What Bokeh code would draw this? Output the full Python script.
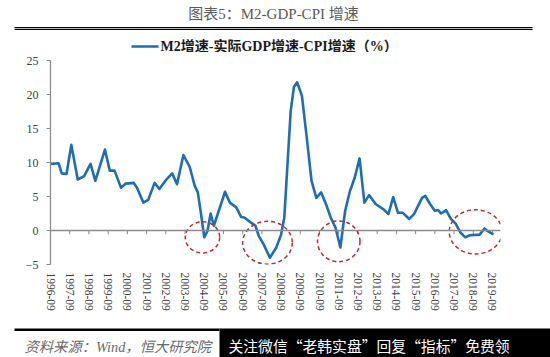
from bokeh.plotting import figure
from bokeh.models import Range1d, FixedTicker, Span, BoxAnnotation
from bokeh.layouts import column
from bokeh.embed import file_html
from bokeh.resources import INLINE
from bokeh.core.properties import value

# ---------------- data ----------------
dates = ["1996-09", "1997-02", "1997-04", "1997-07", "1997-10", "1998-02", "1998-06", "1998-10",
         "1999-01", "1999-07", "1999-10", "2000-01", "2000-05", "2000-08", "2001-01", "2001-03",
         "2001-07", "2001-10", "2002-02", "2002-05", "2002-09", "2003-01", "2003-04", "2003-08",
         "2003-12", "2004-03", "2004-05", "2004-07", "2004-09", "2004-11", "2005-01", "2005-03",
         "2005-10", "2006-01", "2006-05", "2006-08", "2006-10", "2007-02", "2007-05", "2007-07",
         "2007-10", "2008-02", "2008-06", "2008-09", "2008-11", "2009-01", "2009-03", "2009-05",
         "2009-07", "2009-10", "2010-01", "2010-04", "2010-07", "2010-10", "2011-01", "2011-04",
         "2011-07", "2011-10", "2012-01", "2012-04", "2012-07", "2012-10", "2013-01", "2013-04",
         "2013-08", "2014-01", "2014-04", "2014-07", "2014-10", "2015-01", "2015-05", "2015-08",
         "2016-01", "2016-03", "2016-06", "2016-09", "2016-11", "2017-01", "2017-04", "2017-07",
         "2017-10", "2018-01", "2018-04", "2018-07", "2019-01", "2019-04", "2019-06", "2019-09"]
values = [9.8, 9.9, 8.4, 8.3, 12.6, 7.5, 8.0, 9.8,
          7.3, 11.9, 8.8, 8.8, 6.3, 6.9, 7.0, 6.3,
          4.1, 4.5, 7.0, 6.1, 7.4, 8.4, 6.8, 11.1,
          9.3, 6.6, 5.6, 2.4, -1.0, -0.1, 2.5, 0.7,
          5.7, 4.1, 3.4, 2.0, 1.9, 1.2, 0.7, -0.8,
          -2.0, -4.0, -2.5, -0.6, 1.9, 9.8, 17.6, 21.1,
          21.8, 19.8, 13.7, 7.3, 4.8, 5.6, 3.9, 1.9,
          0.4, -2.5, 2.9, 5.8, 7.8, 10.6, 4.1, 5.2,
          3.9, 3.1, 2.4, 4.9, 2.6, 2.6, 1.7, 2.4,
          4.8, 5.1, 3.9, 2.9, 3.0, 2.5, 3.0, 1.7,
          1.0, -0.3, -1.0, -0.7, -0.6, 0.3, -0.1, -0.5]
tick_labels = ["1996-09", "1997-09", "1998-09", "1999-09", "2000-09", "2001-09", "2002-09",
               "2003-09", "2004-09", "2005-09", "2006-09", "2007-09", "2008-09", "2009-09",
               "2010-09", "2011-09", "2012-09", "2013-09", "2014-09", "2015-09", "2016-09",
               "2017-09", "2018-09", "2019-09"]
y_ticks = [-5, 0, 5, 10, 15, 20, 25]

TITLE = "图表5：M2-GDP-CPI 增速"
SERIES = "M2增速-实际GDP增速-CPI增速（%）"
SOURCE = "资料来源：Wind，恒大研究院"
PROMO = "关注微信“老韩实盘”回复“指标”免费领"


def month_index(s):
    return (int(s[:4]) - 1996) * 12 + int(s[5:7]) - 9


xs = [month_index(d) for d in dates]
tick_pos = [month_index(t) for t in tick_labels]

SERIF = "'Liberation Serif', 'Noto Sans CJK SC'"
BLUE = "#1F6DB2"
RED = "#C22A30"
W = 550


def page_figure(height, y0, y1):
    f = figure(width=W, height=height, x_range=Range1d(0, 550), y_range=Range1d(y1, y0),
               x_axis_type=None, y_axis_type=None, output_backend="svg",
               toolbar_location=None, min_border=0, frame_align=False)
    f.outline_line_color = None
    f.grid.visible = False
    return f


def rule(fig, left, right, top, bottom, color="black"):
    fig.add_layout(BoxAnnotation(left=left, right=right, top=top, bottom=bottom,
                                 fill_color=color, fill_alpha=1, line_color=None,
                                 level="underlay"))


# ---------------- title (page y 0..28) ----------------
title_fig = page_figure(28, 0, 28)
title_fig.text(x=[273], y=[13], text=[TITLE], text_align="center", text_baseline="middle",
               text_font=value(SERIF), text_font_size="15px", text_color="#5a5a5a")
rule(title_fig, 14, 532, 26.5, 28)

# ---------------- legend row (page y 28..52) ----------------
legend_fig = page_figure(24, 28, 52)
rule(legend_fig, 14, 532, 28, 29.5)
rule(legend_fig, 131, 158, 44.8, 47.3, BLUE)
legend_fig.text(x=[160], y=[45.5], text=[SERIES], text_align="left", text_baseline="middle",
                text_font=value(SERIF), text_font_size="14px", text_font_style="bold",
                text_color="#1a1a1a")

# ---------------- main chart (page y 52..322) ----------------
main = figure(width=W, height=270, x_range=Range1d(0, 281), y_range=Range1d(-5, 25),
              output_backend="svg", toolbar_location=None, frame_align=False,
              min_border_left=50, min_border_right=50, min_border_top=8, min_border_bottom=58)
main.outline_line_color = None
main.grid.visible = False

main.add_layout(Span(location=0, dimension="width", line_color="#8a8a8a", line_width=1.5))
main.segment(x0=tick_pos, y0=[0] * len(tick_pos), x1=tick_pos, y1=[-0.55] * len(tick_pos),
             line_color="#8a8a8a", line_width=1)

main.line(xs, values, line_color=BLUE, line_width=2.6, line_join="round", line_cap="round")

# dashed red highlight ellipses (annotations)
main.ellipse(x=[94.9, 135.5, 180.0, 265.5], y=[-1.0, -1.8, -1.6, -0.2],
             width=[21.5, 31.0, 26.5, 33.0], height=[4.6, 6.3, 6.0, 6.5],
             fill_color=None, line_color=RED, line_dash="4 3", line_width=1.5)

xa = main.xaxis[0]
xa.ticker = FixedTicker(ticks=tick_pos)
xa.major_label_overrides = {p: l for p, l in zip(tick_pos, tick_labels)}
xa.major_label_orientation = "vertical"
xa.axis_line_color = None
xa.major_tick_line_color = None
xa.minor_tick_line_color = None
xa.major_tick_out = 0
xa.major_tick_in = 0
xa.major_label_standoff = 8
xa.major_label_text_font = SERIF
xa.major_label_text_font_size = "11.5px"
xa.major_label_text_color = "#404040"

ya = main.yaxis[0]
ya.ticker = FixedTicker(ticks=y_ticks)
ya.axis_line_color = "#8a8a8a"
ya.axis_line_width = 1.2
ya.major_tick_line_color = "#8a8a8a"
ya.major_tick_out = 4
ya.major_tick_in = 0
ya.minor_tick_line_color = None
ya.major_label_standoff = 8
ya.major_label_text_font = SERIF
ya.major_label_text_font_size = "12px"
ya.major_label_text_color = "#404040"

# ---------------- footer (page y 322..357) ----------------
footer = page_figure(35, 322, 357)
rule(footer, 14, 219, 328, 330.5)
rule(footer, 219, 550, 328, 357)
footer.text(x=[24], y=[346], text=[SOURCE], text_align="left", text_baseline="middle",
            text_font=value(SERIF), text_font_size="14.3px", text_font_style="italic",
            text_color="#6a6a6a")
footer.text(x=[228], y=[345], text=[PROMO], text_align="left", text_baseline="middle",
            text_font=value("Noto Sans CJK SC"), text_font_size="14.8px", text_color="white")

layout = column(title_fig, legend_fig, main, footer, spacing=0)
open("out.html", "w").write(file_html(layout, INLINE))
